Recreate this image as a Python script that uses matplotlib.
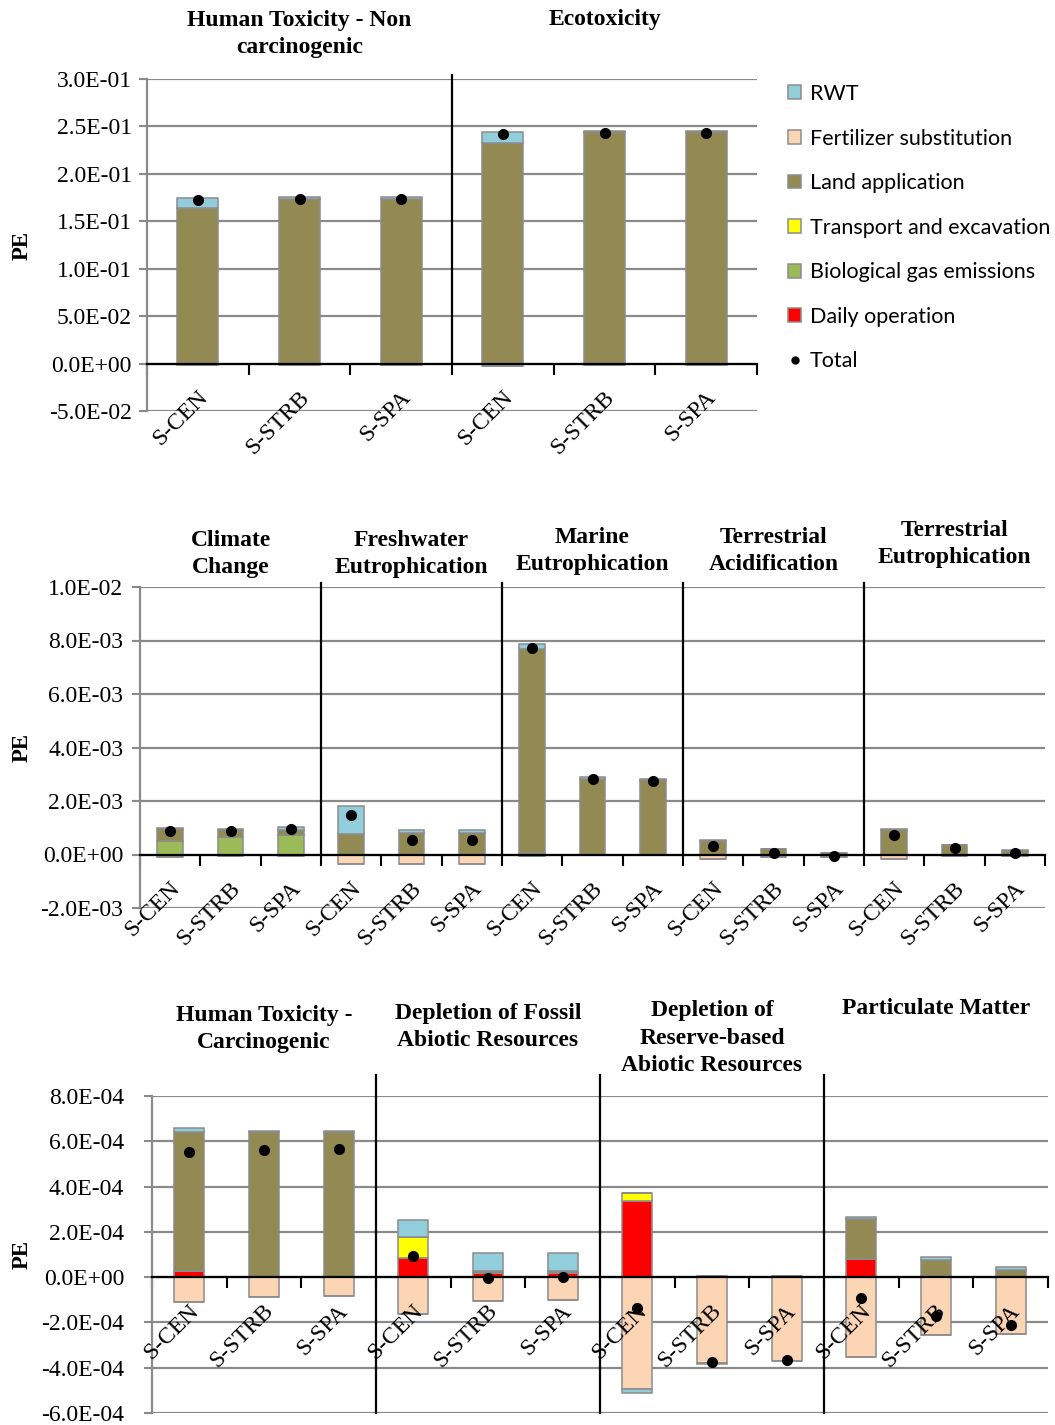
import numpy as np
import matplotlib
matplotlib.use('Agg')
import matplotlib.pyplot as plt
from matplotlib.patches import Patch
from matplotlib.lines import Line2D
from matplotlib.ticker import FuncFormatter, FixedLocator
import matplotlib.transforms as mtransforms

# ---------------- data ----------------
scenarios = ["S-CEN", "S-STRB", "S-SPA"]
series_names = ["RWT", "Fertilizer substitution", "Land application",
                "Transport and excavation", "Biological gas emissions", "Daily operation"]

# Panel 1 (PE)
p1_groups = ["Human Toxicity - Non\ncarcinogenic", "Ecotoxicity"]
p1_daily = [0, 0, 0, 0, 0, 0]
p1_bio = [0, 0, 0, 0, 0, 0]
p1_transport = [0, 0, 0, 0, 0, 0]
p1_land = [0.1635, 0.1740, 0.1740, 0.2328, 0.2440, 0.2440]
p1_fert = [-0.0020, -0.0015, -0.0015, -0.0025, -0.0020, -0.0020]
p1_rwt = [0.0112, 0.0017, 0.0017, 0.0115, 0.0017, 0.0017]
p1_total = [0.1720, 0.1740, 0.1740, 0.2415, 0.2433, 0.2433]

# Panel 2 (PE)
p2_groups = ["Climate\nChange", "Freshwater\nEutrophication", "Marine\nEutrophication",
             "Terrestrial\nAcidification", "Terrestrial\nEutrophication"]
p2_daily = [0, 0, 0, 0, 0, 0, 0.00007, 0, 0, 0, 0, 0, 0, 0, 0]
p2_bio = [0.00049, 0.00067, 0.00073, 0, 0, 0, 0, 0, 0, 0, 0, 0, 0, 0, 0]
p2_transport = [0] * 15
p2_land = [0.00046, 0.00023, 0.00020, 0.00076, 0.00082, 0.00081, 0.00761, 0.00284, 0.00279,
           0.00052, 0.00020, 0.00006, 0.00093, 0.00034, 0.00014]
p2_fert = [-0.00011, -0.00004, -0.00004, -0.00034, -0.00034, -0.00034, -0.00005, -0.00002, -0.00002,
           -0.00015, -0.00011, -0.00011, -0.00015, -0.00005, -0.00004]
p2_rwt = [0.00005, 0.00005, 0.00009, 0.00105, 0.00009, 0.00009, 0.00020, 0.00006, 0.00005,
          0.00003, 0.00002, 0.00001, 0.00003, 0.00002, 0.00001]
p2_total = [0.00087, 0.00087, 0.00094, 0.00146, 0.00056, 0.00056, 0.00773, 0.00283, 0.00275,
            0.00031, 0.00005, -0.00005, 0.00073, 0.00025, 0.00005]

# Panel 3 (PE)
p3_groups = ["Human Toxicity -\nCarcinogenic", "Depletion of Fossil\nAbiotic Resources",
             "Depletion of\nReserve-based\nAbiotic Resources", "Particulate Matter"]
p3_daily = [0.26e-4, 0.02e-4, 0.02e-4, 0.85e-4, 0.18e-4, 0.18e-4, 3.38e-4, 0, 0, 0.82e-4, 0.03e-4, 0.02e-4]
p3_bio = [0] * 12
p3_transport = [0, 0, 0, 0.91e-4, 0, 0, 0.34e-4, 0, 0, 0, 0, 0]
p3_land = [6.17e-4, 6.40e-4, 6.40e-4, 0, 0.09e-4, 0.09e-4, 0, 0.04e-4, 0.04e-4, 1.73e-4, 0.72e-4, 0.28e-4]
p3_fert = [-1.08e-4, -0.86e-4, -0.82e-4, -1.64e-4, -1.05e-4, -1.01e-4, -4.96e-4, -3.79e-4, -3.69e-4,
           -3.54e-4, -2.55e-4, -2.49e-4]
p3_rwt = [0.17e-4, 0.04e-4, 0.04e-4, 0.76e-4, 0.78e-4, 0.78e-4, -0.15e-4, -0.03e-4, -0.03e-4,
          0.10e-4, 0.13e-4, 0.14e-4]
p3_total = [5.53e-4, 5.61e-4, 5.65e-4, 0.92e-4, -0.03e-4, 0.01e-4, -1.38e-4, -3.76e-4, -3.65e-4,
            -0.91e-4, -1.71e-4, -2.11e-4]

# ---------------- style ----------------
W, H = 1055, 1425
DPI = 100
SERIF = ['Liberation Serif', 'DejaVu Serif']
SANS = ['Lato', 'DejaVu Sans']
colors = {
    "RWT": "#92cddc",
    "Fertilizer substitution": "#fcd5b5",
    "Land application": "#938953",
    "Transport and excavation": "#ffff00",
    "Biological gas emissions": "#9bbb59",
    "Daily operation": "#ff0000",
}
GRID = '#8a8a8a'
EDGE = '#8c8c8c'

plt.rcParams['font.family'] = SERIF

fig = plt.figure(figsize=(W / DPI, H / DPI), dpi=DPI)


def px_axes(left, top, right, bottom):
    return fig.add_axes([left / W, 1 - bottom / H, (right - left) / W, (bottom - top) / H])


def fmt(v, pos):
    return f"{v:.1E}"


def draw_panel(ax, groups, daily, bio, transport, land, fert, rwt, total,
               ylim, ystep, title_y, ypad, bar_w=0.4, sep_full=False, sep_top_px=4):
    n = len(land)
    x = np.arange(n)
    stack = [("Daily operation", daily), ("Biological gas emissions", bio),
             ("Transport and excavation", transport), ("Land application", land),
             ("Fertilizer substitution", fert), ("RWT", rwt)]
    pos_base = np.zeros(n)
    neg_base = np.zeros(n)
    for name, vals in stack:
        vals = np.asarray(vals, dtype=float)
        pv = np.where(vals > 0, vals, 0)
        nv = np.where(vals < 0, vals, 0)
        ax.bar(x, pv, bar_w, bottom=pos_base, color=colors[name], edgecolor=EDGE,
               linewidth=1.1, zorder=2)
        ax.bar(x, nv, bar_w, bottom=neg_base, color=colors[name], edgecolor=EDGE,
               linewidth=1.1, zorder=2)
        pos_base += pv
        neg_base += nv
    ax.plot(x, total, 'o', color='black', markersize=7, zorder=4)

    ax.set_xlim(-0.5, n - 0.5)
    ax.set_ylim(*ylim)
    ticks = np.arange(ylim[0], ylim[1] + ystep / 2, ystep)
    ax.yaxis.set_major_locator(FixedLocator(ticks))
    ax.yaxis.set_major_formatter(FuncFormatter(fmt))
    ax.yaxis.grid(True, color=GRID, linewidth=1.6)
    ax.set_axisbelow(True)
    ax.tick_params(axis='y', direction='out', length=6, width=1.5, color=GRID,
                   labelsize=17, pad=ypad)
    ax.xaxis.set_major_locator(FixedLocator(np.arange(-0.5, n, 1.0)))
    ax.tick_params(axis='x', direction='out', length=8, width=1.5, color='black',
                   labelbottom=False)
    for s in ['top', 'right']:
        ax.spines[s].set_visible(False)
    ax.spines['left'].set_color(GRID)
    ax.spines['left'].set_linewidth(1.6)
    ax.spines['bottom'].set_position(('data', 0))
    ax.spines['bottom'].set_color('black')
    ax.spines['bottom'].set_linewidth(1.6)
    ax.spines['bottom'].set_zorder(3)

    # category labels
    off = mtransforms.offset_copy(ax.transData, fig=fig, x=-1, y=-23, units='dots')
    for i in range(n):
        ax.text(i, 0, scenarios[i % 3], transform=off, rotation=45, rotation_mode='anchor',
                ha='right', va='top', fontsize=17, zorder=6, clip_on=False)

    # group separators
    ng = len(groups)
    bl = mtransforms.blended_transform_factory(ax.transData, ax.transAxes)
    y0 = 0.0 if sep_full else (0 - ylim[0]) / (ylim[1] - ylim[0])
    for g in range(1, ng):
        xs = 3 * g - 0.5
        ax.plot([xs, xs], [y0, 1.0 + sep_top_px / ax.bbox.height], color='black',
                linewidth=1.6, transform=bl, clip_on=False, zorder=3)

    # group titles
    tb = mtransforms.blended_transform_factory(ax.transData, fig.transFigure)
    for g, t in enumerate(groups):
        ax.text(3 * g + 1, 1 - title_y[g] / H, t, transform=tb, ha='center', va='center',
                fontsize=17, fontweight='bold', linespacing=1.4, clip_on=False)


ax1 = px_axes(147, 79, 757, 411)
draw_panel(ax1, p1_groups, p1_daily, p1_bio, p1_transport, p1_land, p1_fert, p1_rwt, p1_total,
           (-0.05, 0.30), 0.05, [34, 20], ypad=5, bar_w=0.4, sep_top_px=4)

ax2 = px_axes(140, 587, 1045, 908)
draw_panel(ax2, p2_groups, p2_daily, p2_bio, p2_transport, p2_land, p2_fert, p2_rwt, p2_total,
           (-0.002, 0.010), 0.002, [554, 554, 551, 551, 544], ypad=6, bar_w=0.42, sep_top_px=4)

ax3 = px_axes(152, 1096, 1048, 1413)
draw_panel(ax3, p3_groups, p3_daily, p3_bio, p3_transport, p3_land, p3_fert, p3_rwt, p3_total,
           (-6e-4, 8e-4), 2e-4, [1029, 1027, 1038, 1008], ypad=14, bar_w=0.4, sep_full=True,
           sep_top_px=21)

# y labels
for yc in [245, 747, 1254]:
    fig.text(22 / W, 1 - yc / H, "PE", rotation=90, ha='center', va='center',
             fontsize=16.5, fontweight='bold')

# legend
handles = [Patch(facecolor=colors[nm], edgecolor=EDGE, linewidth=1.1) for nm in series_names]
handles.append(Line2D([0], [0], marker='o', color='black', linestyle='none', markersize=5))
labels = series_names + ["Total"]
fig.legend(handles, labels, loc='upper left', bbox_to_anchor=(788 / W, 1 - 84 / H),
           frameon=False, prop={'family': SANS, 'size': 15.5}, handlelength=0.62,
           handleheight=0.62, handletextpad=0.4, labelspacing=1.14, borderpad=0, borderaxespad=0)

fig.savefig('out.png', dpi=DPI)
